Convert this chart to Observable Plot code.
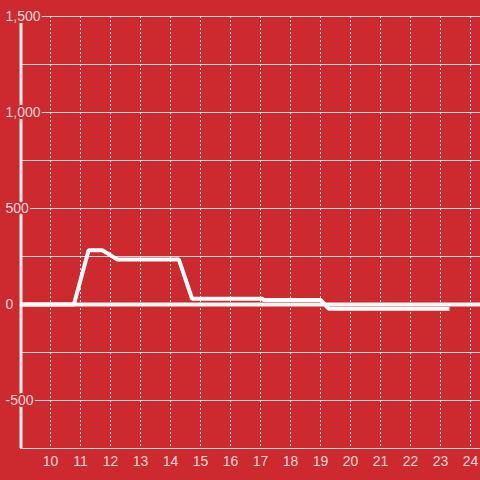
<!DOCTYPE html>
<html>
<head>
<meta charset="utf-8">
<script src="https://cdn.jsdelivr.net/npm/d3@7"></script>
<script src="https://cdn.jsdelivr.net/npm/@observablehq/plot@0.6"></script>
<style>
  html, body { margin: 0; padding: 0; background: #cd2a2f; }
  #chart { width: 480px; height: 480px; }
</style>
</head>
<body>
<div id="chart"></div>
<script>
// Data
const hours  = [9, 10.78, 11.27, 11.72, 12.23, 14.28, 14.72, 17.07, 17.1, 19.0, 19.27, 23.3];
const values = [0, 0, 283, 283, 234, 234, 30, 30, 24, 24, -22, -22];

const xTicks = [10, 11, 12, 13, 14, 15, 16, 17, 18, 19, 20, 21, 22, 23, 24];
const yGrid = [1500, 1250, 1000, 750, 500, 250, -250, -500, -750];
const yLabels = [1500, 1000, 500, 0, -500];

const BG = "#cd2a2f";
const TXT = "rgba(255,255,255,0.82)";
const fmt = v => d3.format(",")(v).replace("\u2212", "-");

const data = hours.map((h, i) => ({h, v: values[i]}));

const chart = Plot.plot({
  width: 480,
  height: 480,
  marginLeft: 20,
  marginRight: 0,
  marginTop: 16,
  marginBottom: 32,
  style: {background: BG, fontFamily: "'Liberation Sans', Arial, sans-serif", fontSize: "14px"},
  x: {domain: [9, 9 + 460 / 30], axis: null},
  y: {domain: [-750, 1500], axis: null},
  marks: [
    Plot.ruleY(yGrid, {y: d => d, stroke: "#d9d9d9", strokeWidth: 1}),
    Plot.ruleX(xTicks, {x: d => d, stroke: "#e6e6e6", strokeWidth: 1, strokeDasharray: "2,2"}),
    Plot.ruleY([0], {stroke: "#f7f7f7", strokeWidth: 4}),
    Plot.ruleX([9], {stroke: "#eeeeee", strokeWidth: 3, dx: 0.5}),
    Plot.line(data, {x: "h", y: "v", stroke: "#ffffff", strokeWidth: 4, strokeLinejoin: "miter", strokeLinecap: "butt"}),
    Plot.text(yLabels, {
      y: d => d, text: d => fmt(d), frameAnchor: "left", dx: -15, textAnchor: "start",
      fill: TXT, stroke: BG, strokeWidth: 4, fontSize: 14
    }),
    Plot.text(xTicks, {
      x: d => d, text: d => String(d), frameAnchor: "bottom", dy: 13, lineAnchor: "middle",
      fill: TXT, fontSize: 14
    })
  ]
});
document.getElementById("chart").appendChild(chart);
</script>
</body>
</html>
